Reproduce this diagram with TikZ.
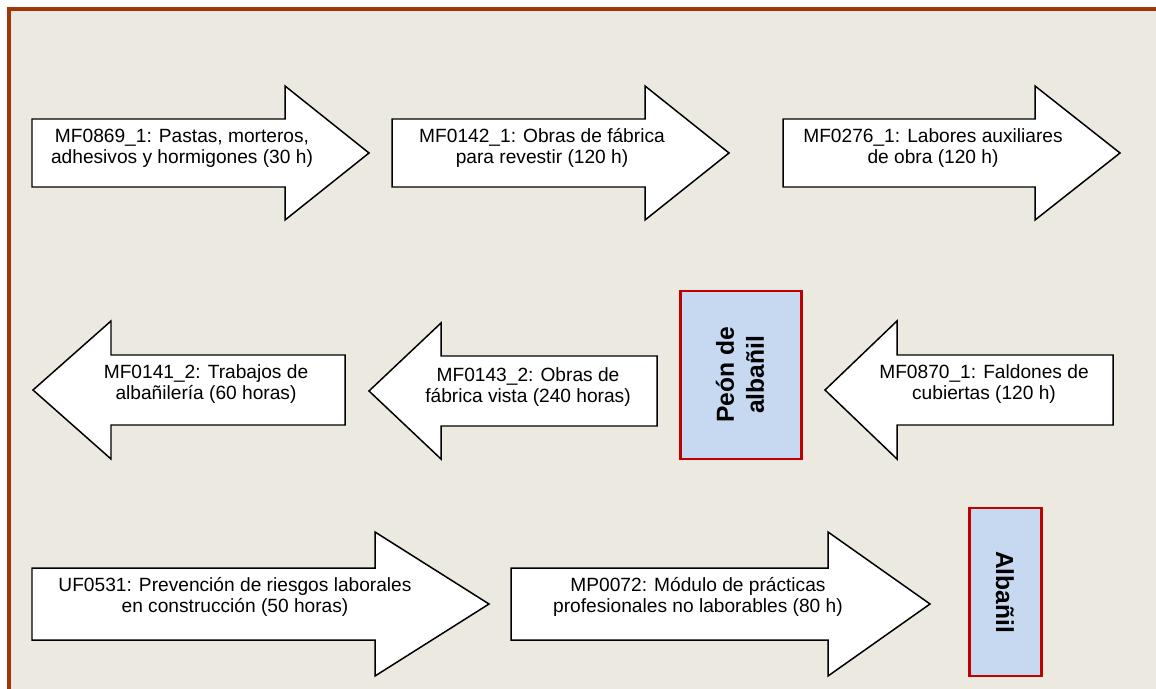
\documentclass[tikz,border=0pt]{standalone}
\usepackage{fontspec}
\setmainfont{Liberation Sans}

\definecolor{framebrown}{RGB}{160,55,10}
\definecolor{paper}{RGB}{236,233,224}
\definecolor{paleblue}{RGB}{198,217,241}
\definecolor{boxred}{RGB}{192,0,0}

\begin{document}
\begin{tikzpicture}[x=0.02cm, y=-0.02cm,
    blockarrow/.style={draw=black, fill=white, line width=0.85pt, line join=miter},
    label/.style={align=center, inner sep=0pt, font=\fontsize{10.9}{11.9}\selectfont},
    levelbox/.style={draw=boxred, fill=paleblue, line width=1.7pt},
    leveltext/.style={align=center, inner sep=0pt, font=\fontsize{14}{17}\selectfont\bfseries}]
  \useasboundingbox (0,0) rectangle (1156,689);

  % background and frame
  \fill[white] (0,0) rectangle (1156,689);
  \clip (0,0) rectangle (1156,689);
  \filldraw[fill=paper, draw=framebrown, line width=2pt] (9,9) rectangle (1175,705);

  % arrow bodies: tail/base of head/tip/middle/half shaft/half head
  \foreach \t/\b/\p/\m/\s/\h in {32/285/369/153/34/67, 392/645/729/153/34/67,
      783/1035/1120/153/34/67, 345/111/33/390/35/69, 657/441/369/391/35/68,
      1113/897/825/390/35/69, 32/375/489/604/36/72, 511/828/930/604/36/72} {
    \draw[blockarrow] (\t,\m-\s) -- (\b,\m-\s) -- (\b,\m-\h) -- (\p,\m)
      -- (\b,\m+\h) -- (\b,\m+\s) -- (\t,\m+\s) -- cycle;
  }

  % arrow texts
  \node[label] (m0869) at (182,148) {MF0869\_1: Pastas, morteros,\\adhesivos y hormigones (30 h)};
  \node[label] (m0142) at (542,148) {MF0142\_1: Obras de fábrica\\para revestir (120 h)};
  \node[label] (m0276) at (933,148) {MF0276\_1: Labores auxiliares\\de obra (120 h)};
  \node[label] (m0141) at (206,384) {MF0141\_2: Trabajos de\\albañilería (60 horas)};
  \node[label] (m0143) at (528,387) {MF0143\_2: Obras de\\fábrica vista (240 horas)};
  \node[label] (m0870) at (984,384) {MF0870\_1: Faldones de\\cubiertas (120 h)};
  \node[label] (u0531) at (235,597) {UF0531: Prevención de riesgos laborales\\en construcción (50 horas)};
  \node[label] (p0072) at (698,597) {MP0072: Módulo de prácticas\\profesionales no laborables (80 h)};

  % qualification boxes
  \draw[levelbox] (680,291) rectangle (801,459);
  \node[leveltext, rotate=90] (peon) at (740,375) {Peón de\\albañil};
  \draw[levelbox] (969,508) rectangle (1041,676);
  \node[leveltext, rotate=-90] (albanil) at (1005,592) {Albañil};
\end{tikzpicture}
\end{document}
